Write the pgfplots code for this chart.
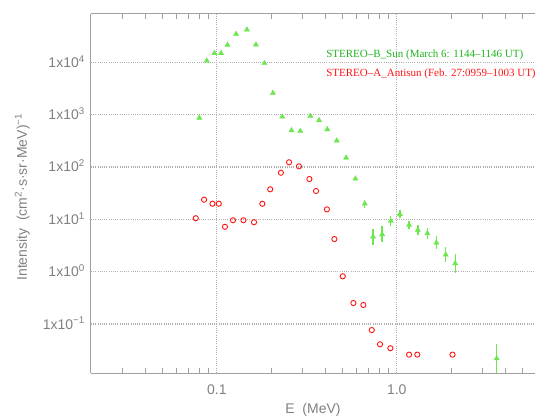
\documentclass[border=0pt]{standalone}
\usepackage{fontspec}
\setmainfont{Liberation Serif}
\newfontfamily\lsans{Liberation Sans}
\usepackage{pgfplots}
\pgfplotsset{compat=1.18}
\definecolor{axgray}{RGB}{160,160,160}
\definecolor{txtgray}{RGB}{128,128,128}
\definecolor{gridgray}{RGB}{175,175,175}
\definecolor{ltgreen}{RGB}{110,230,80}
\definecolor{txtgreen}{RGB}{30,180,30}
\definecolor{txtred}{RGB}{255,20,20}
\begin{document}
\begin{tikzpicture}
\begin{axis}[
  at={(91pt,44pt)}, anchor=south west,
  scale only axis, width=444pt, height=359pt,
  xmode=log, ymode=log,
  xmin=0.02, xmax=5.86, ymin=0.01159, ymax=83800,
  axis x line=box, axis y line=left,
  every outer x axis line/.append style={-},
  every outer y axis line/.append style={-},
  x axis line style={-}, y axis line style={-},
  axis line style={draw=axgray, line width=1pt},
  xtick={0.1,1}, xticklabels={0.1,1.0},
  minor xtick={0.03,0.04,0.05,0.06,0.07,0.08,0.09,0.2,0.3,0.4,0.5,0.6,0.7,0.8,0.9,2,3,4,5},
  ytick={0.1,1,10,100,1000,10000},
  yticklabels={1x10\textsuperscript{−1},1x10\textsuperscript{0},1x10\textsuperscript{1},1x10\textsuperscript{2},1x10\textsuperscript{3},1x10\textsuperscript{4}},
  tick align=inside,
  major tick length=0pt, minor tick length=5pt,
  xtick pos=both,
  every tick/.style={draw=axgray, line width=0.9pt},
  ytick style={draw=none},
  grid=major,
  major grid style={draw=gridgray, line width=1.1pt, dash pattern=on 1pt off 1.2pt},
  xticklabel style={font=\lsans\fontsize{14}{16}\selectfont, text=txtgray, anchor=center, yshift=-17pt},
  yticklabel style={font=\lsans\fontsize{14}{16}\selectfont, text=txtgray, anchor=base east, inner sep=0pt, xshift=-6pt, yshift=-5pt},
  every axis x label/.style={at={(axis description cs:0.5,-0.103)}, anchor=center},
  every axis y label/.style={at={(axis description cs:-0.155,0.49)}, rotate=90, anchor=center},
  label style={font=\lsans\fontsize{14}{16}\selectfont, text=txtgray},
  xlabel={E\ \ (MeV)},
  ylabel={Intensity\ \ (cm\textsuperscript{2}·s·sr·MeV)\textsuperscript{−1}},
  clip=true,
]
% STEREO-B Sun (green triangles)
\addplot[only marks, mark=triangle*, mark size=3pt, color=ltgreen,
  mark options={fill=ltgreen, draw=ltgreen},
  error bars/.cd, y dir=both, y explicit,
  error bar style={line width=1.3pt, color=ltgreen}, error mark=none]
  table[x=x, y=y, y error plus=ep, y error minus=em] {
x y ep em
0.0800 870 0 0
0.0880 10700 0 0
0.0970 14900 0 0
0.1057 14900 0 0
0.1146 21400 0 0
0.1280 34700 0 0
0.1470 42000 0 0
0.1650 21700 0 0
0.1840 9600 0 0
0.2050 2590 0 0
0.2310 914 0 0
0.2600 500 0 0
0.2910 487 0 0
0.3310 942 0 0
0.3700 780 0 0
0.4110 525 0 0
0.4640 318 0 0
0.5230 150 0 0
0.5890 59.7 0 0
0.6640 19.9 4.0 3.35
0.7380 4.66 1.92 1.36
0.8290 5.17 2.14 1.51
0.9260 9.3 2.14 1.74
1.0400 12.6 2.44 2.04
1.1700 7.8 1.62 1.34
1.3100 6.25 1.54 1.24
1.4800 5.4 1.40 1.11
1.6600 3.57 1.22 0.91
1.8700 2.11 0.85 0.61
2.1100 1.44 0.76 0.50
3.5900 0.022 0.019 0.0102
};
% STEREO-A Antisun (red circles)
\addplot[only marks, mark=o, mark size=2.6pt, color=txtred,
  mark options={line width=0.9pt}]
  table[x=x, y=y] {
x y
0.0764 10.5
0.0850 23.7
0.0946 19.9
0.1026 19.9
0.1110 7.2
0.1230 9.6
0.1406 9.6
0.1610 8.8
0.1790 19.9
0.1980 37.5
0.2270 77.8
0.2520 123
0.2860 103
0.3270 58.9
0.3560 34.8
0.4090 15.5
0.4500 4.2
0.5010 0.815
0.5740 0.252
0.6520 0.231
0.7260 0.0767
0.8070 0.041
0.9210 0.0344
1.1700 0.026
1.3000 0.026
2.0400 0.026
};
\node[anchor=west, inner sep=0pt, text=txtgreen, font=\fontsize{11}{13}\selectfont]
  at (axis cs:0.405,13800) {STEREO–B\_Sun (March 6: 1144–1146 UT)};
\node[anchor=west, inner sep=0pt, text=txtred, font=\fontsize{11}{13}\selectfont]
  at (axis cs:0.405,5970) {STEREO–A\_Antisun (Feb. 27:0959–1003 UT)};
\end{axis}
\pgfresetboundingbox
\path[use as bounding box] (0,0) rectangle (535pt,417pt);
\end{tikzpicture}
\end{document}
